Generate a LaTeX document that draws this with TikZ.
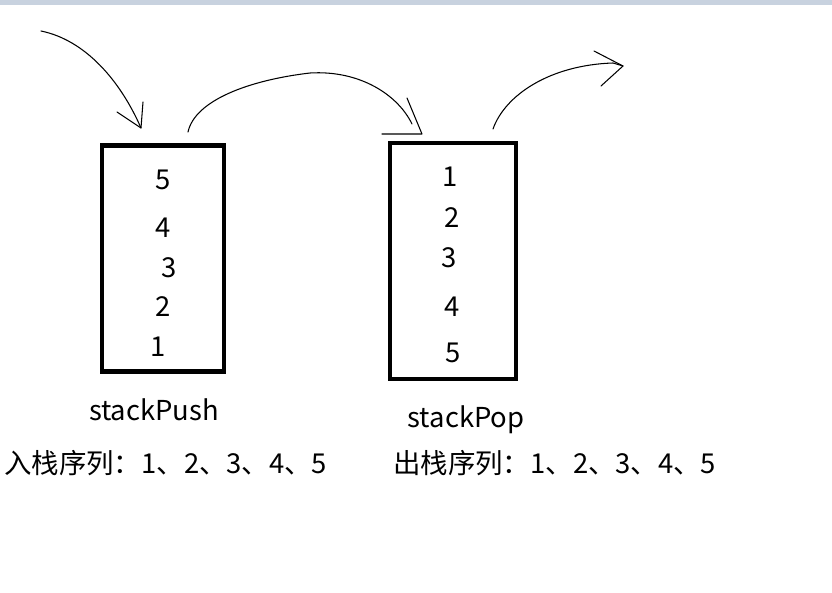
\documentclass[tikz,border=0pt]{standalone}
\usepackage{fontspec}
\setmainfont{Noto Sans CJK SC}
\usepackage{xcolor}
\definecolor{barcol}{RGB}{200,210,223}
\usetikzlibrary{positioning}

\begin{document}
\begin{tikzpicture}[
    x=0.025cm, y=-0.025cm,
    stackbox/.style={rectangle, draw=black, line width=2.9pt, inner sep=0pt},
    num/.style={inner sep=0pt, font=\fontsize{19.5}{23}\selectfont},
    lbl/.style={inner sep=0pt, anchor=base, font=\fontsize{19.5}{23}\selectfont},
    seq/.style={inner sep=0pt, anchor=base west, font=\fontsize{19.5}{23}\selectfont},
    arr/.style={line width=0.75pt, draw=black, line cap=round, line join=round}
]
    \useasboundingbox (0,0) rectangle (832,592);
    \fill[barcol] (0,0) rectangle (832,5);

    % push stack
    \node[stackbox, minimum width=3.05cm, minimum height=5.65cm] (push) at (163,258.5) {};
    \node[num] (p5) at (163,180) {5};
    \node[num] (p4) at (163,228) {4};
    \node[num] (p3) at (169,268) {3};
    \node[num] (p2) at (163,307) {2};
    \node[num] (p1) at (158,347) {1};
    \node[lbl] (pushname) at (154,420) {stackPush};
    \node[seq] (pushseq) at (4,473) {入栈序列：1、2、3、4、5};

    % pop stack
    \node[stackbox, line width=3.5pt, minimum width=3.15cm, minimum height=5.9cm] (pop) at (453,261) {};
    \node[num] (q1) at (450,177) {1};
    \node[num] (q2) at (452,218) {2};
    \node[num] (q3) at (449,258) {3};
    \node[num] (q4) at (452,307) {4};
    \node[num] (q5) at (453,353) {5};
    \node[lbl] (popname) at (466,427) {stackPop};
    \node[seq] (popseq) at (393,473) {出栈序列：1、2、3、4、5};

    % hand drawn arrows
    \coordinate (in1) at (41,31);
    \coordinate (tip1) at (141,128);
    \coordinate (out1) at (188,132);
    \coordinate (top2) at (310,73);
    \coordinate (tip2) at (422,134);
    \coordinate (out2) at (493,129);
    \coordinate (end3) at (613,63);
    \coordinate (tip3) at (623,66);

    \draw[arr] (in1) .. controls (85,40) and (120,80) .. (tip1);
    \draw[arr] (117,112) -- (tip1) -- (143,102);

    \draw[arr] (out1) .. controls (195,100) and (250,80) .. (top2)
        .. controls (360,70) and (398,95) .. (412,124);
    \draw[arr] (407,98) -- (tip2) -- (382,134);

    \draw[arr] (out2) .. controls (505,95) and (550,65) .. (end3) -- (tip3);
    \draw[arr] (594,51) -- (tip3) -- (601,86);
\end{tikzpicture}
\end{document}
